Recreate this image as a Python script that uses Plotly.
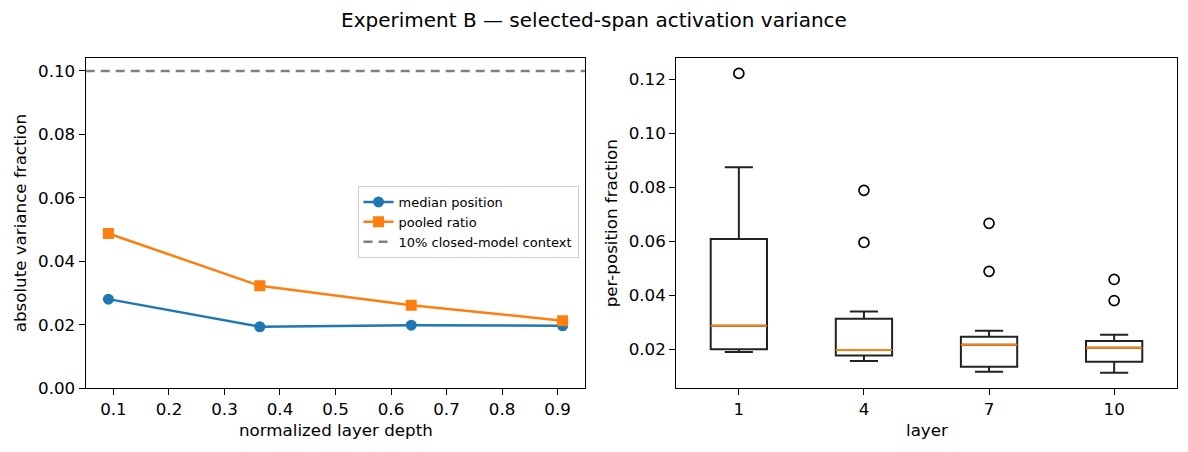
import plotly.graph_objects as go

# left panel: variance fraction vs normalized depth
depth = [0.0909, 0.3636, 0.6364, 0.9091]
median_position = [0.0281, 0.0194, 0.0199, 0.0197]
pooled_ratio = [0.0488, 0.0323, 0.0262, 0.0213]
context_level = 0.10

# right panel: per-position fraction box stats per layer
layers = ["1", "4", "7", "10"]
box_low = [0.0190, 0.0157, 0.0117, 0.0114]
box_q1 = [0.0201, 0.0177, 0.0136, 0.0154]
box_med = [0.0288, 0.0198, 0.0217, 0.0206]
box_q3 = [0.0609, 0.0314, 0.0247, 0.0231]
box_high = [0.0875, 0.0340, 0.0269, 0.0254]
outliers = [[0.1222], [0.0596, 0.0789], [0.0489, 0.0667], [0.0381, 0.0459]]

FONT = "DejaVu Sans"
W, H = 1188, 452
FS = 16.7
box_w = 0.45
pos = list(range(1, len(layers) + 1))

left_xr = [0.05, 0.95]
left_yr = [0.0, 0.104]
right_xr = [0.5, len(layers) + 0.5]
right_yr = [0.0056, 0.1278]

fig = go.Figure()

fig.add_trace(go.Scatter(
    x=depth, y=median_position, mode="lines+markers", name="median position",
    line=dict(color="#1f77b4", width=2.5),
    marker=dict(symbol="circle", size=11, color="#1f77b4"),
    xaxis="x", yaxis="y"))
fig.add_trace(go.Scatter(
    x=depth, y=pooled_ratio, mode="lines+markers", name="pooled ratio",
    line=dict(color="#ff7f0e", width=2.5),
    marker=dict(symbol="square", size=11, color="#ff7f0e"),
    xaxis="x", yaxis="y"))
fig.add_trace(go.Scatter(
    x=left_xr, y=[context_level, context_level], mode="lines",
    name="10% closed-model context",
    line=dict(color="#808080", width=2.5, dash="9px,6px"),
    xaxis="x", yaxis="y"))

# boxes
fig.add_trace(go.Box(
    x=pos, q1=box_q1, median=box_med, q3=box_q3,
    lowerfence=box_low, upperfence=box_high,
    width=box_w, whiskerwidth=0.5, boxpoints=False,
    line=dict(color="#222222", width=2), fillcolor="rgba(0,0,0,0)",
    showlegend=False, hoverinfo="skip", xaxis="x2", yaxis="y2"))

# orange median lines
mx, my = [], []
for p, m in zip(pos, box_med):
    mx += [p - box_w / 2, p + box_w / 2, None]
    my += [m, m, None]
fig.add_trace(go.Scatter(
    x=mx, y=my, mode="lines", line=dict(color="#ff7f0e", width=2),
    showlegend=False, xaxis="x2", yaxis="y2"))

# fliers
ox, oy = [], []
for p, vals in zip(pos, outliers):
    ox += [p] * len(vals)
    oy += vals
fig.add_trace(go.Scatter(
    x=ox, y=oy, mode="markers",
    marker=dict(symbol="circle-open", size=10, color="black", line=dict(width=1.7)),
    showlegend=False, xaxis="x2", yaxis="y2"))

axis_common = dict(
    showline=True, mirror=True, linecolor="black", linewidth=1.3,
    ticks="outside", ticklen=6, tickwidth=1.3, tickcolor="black",
    showgrid=False, zeroline=False, automargin=False,
    tickfont=dict(family=FONT, size=FS, color="black"),
)

y0 = 1 - 388.3 / H
y1 = 1 - 58.3 / H
dl = [85.7 / W, 585.3 / W]
dr = [676.3 / W, 1176.7 / W]

fig.update_layout(
    width=W, height=H,
    margin=dict(l=0, r=0, t=0, b=0),
    paper_bgcolor="white", plot_bgcolor="white",
    font=dict(family=FONT, color="black"),
    xaxis=dict(domain=dl, range=left_xr, tickvals=[i / 10 for i in range(1, 10)],
               tickformat=".1f", anchor="y", **axis_common),
    yaxis=dict(domain=[y0, y1], range=left_yr, tickvals=[i / 50 for i in range(0, 6)],
               tickformat=".2f", anchor="x", **axis_common),
    xaxis2=dict(domain=dr, range=right_xr, tickvals=pos, ticktext=layers,
                anchor="y2", **axis_common),
    yaxis2=dict(domain=[y0, y1], range=right_yr, tickvals=[i / 50 for i in range(1, 7)],
                tickformat=".2f", anchor="x2", **axis_common),
    legend=dict(x=357.5 / W, y=1 - 186 / H, xanchor="left", yanchor="top",
                bgcolor="rgba(255,255,255,0.8)", bordercolor="#cccccc", borderwidth=1,
                font=dict(family=FONT, size=13, color="black"),
                tracegroupgap=0, itemwidth=30),
    showlegend=True,
    annotations=[
        dict(text="Experiment B — selected-span activation variance", x=0.5, y=1 - 20 / H,
             xref="paper", yref="paper", xanchor="center", yanchor="middle",
             showarrow=False, font=dict(family=FONT, size=20, color="black")),
        dict(text="normalized layer depth", x=(dl[0] + dl[1]) / 2, y=1 - 430 / H,
             xref="paper", yref="paper", xanchor="center", yanchor="middle",
             showarrow=False, font=dict(family=FONT, size=FS, color="black")),
        dict(text="layer", x=(dr[0] + dr[1]) / 2, y=1 - 430 / H,
             xref="paper", yref="paper", xanchor="center", yanchor="middle",
             showarrow=False, font=dict(family=FONT, size=FS, color="black")),
        dict(text="absolute variance fraction", x=20 / W, y=(y0 + y1) / 2, textangle=-90,
             xref="paper", yref="paper", xanchor="center", yanchor="middle",
             showarrow=False, font=dict(family=FONT, size=FS, color="black")),
        dict(text="per-position fraction", x=611 / W, y=(y0 + y1) / 2, textangle=-90,
             xref="paper", yref="paper", xanchor="center", yanchor="middle",
             showarrow=False, font=dict(family=FONT, size=FS, color="black")),
    ],
)

# drop the default 8px body margin so the figure sits at the page origin
fig.write_html("out.html", config={"displayModeBar": False},
               post_script="document.body.style.margin='0px';")
